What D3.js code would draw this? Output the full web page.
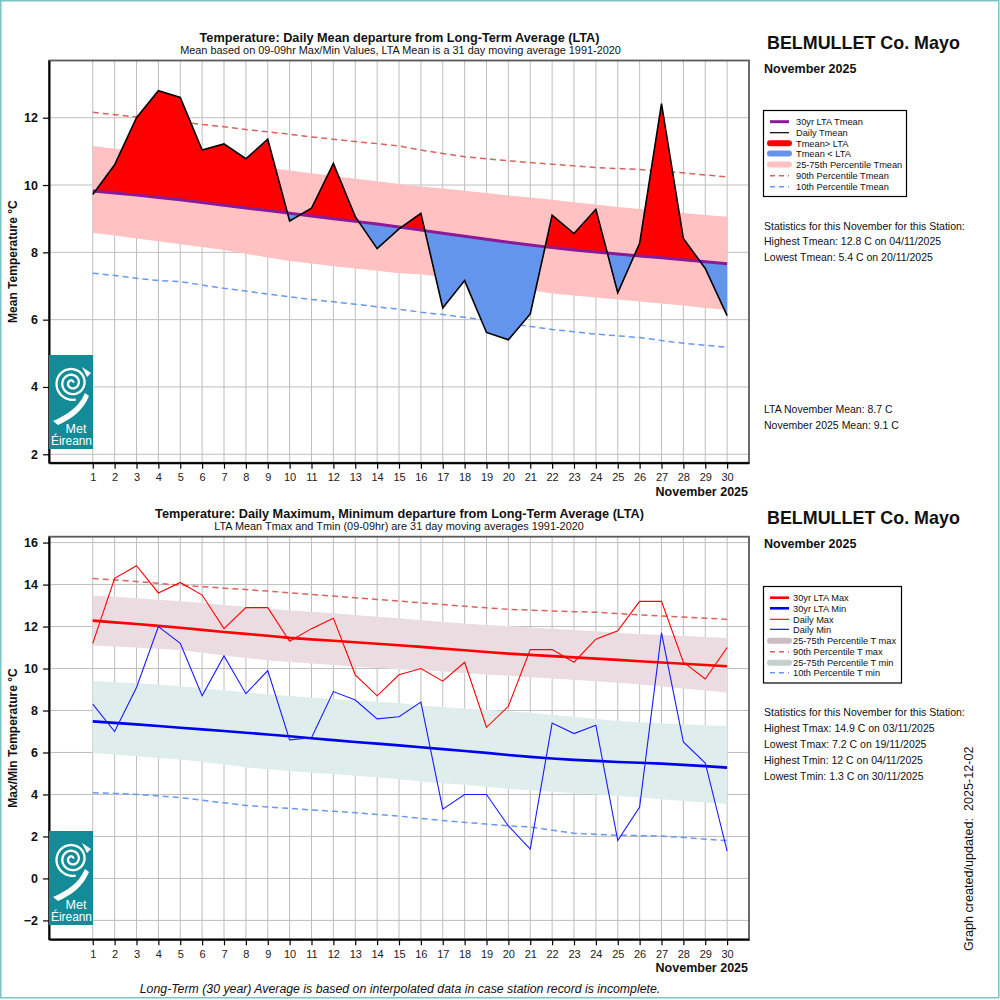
<!DOCTYPE html>
<html><head><meta charset="utf-8">
<script src="https://cdn.jsdelivr.net/npm/d3@7"></script>
<style>
body{margin:0;background:#fff}
svg{display:block;font-family:"Liberation Sans",Arial,Helvetica,sans-serif}
</style>
</head><body>
<svg id="c" width="1000" height="1000"></svg>
<script>
// ---------- DATA ----------
const days = [1,2,3,4,5,6,7,8,9,10,11,12,13,14,15,16,17,18,19,20,21,22,23,24,25,26,27,28,29,30];

// Top panel: daily mean and long-term references
const tmean   = [9.72,10.6,12.0,12.8,12.6,11.04,11.22,10.78,11.36,8.93,9.31,10.64,9.06,8.11,8.70,9.16,6.35,7.16,5.62,5.4,6.17,9.1,8.56,9.28,6.8,8.27,12.42,8.41,7.52,6.12];
const ltaMean = [9.82,9.76,9.70,9.63,9.56,9.48,9.40,9.32,9.24,9.16,9.08,9.00,8.92,8.84,8.75,8.66,8.57,8.48,8.39,8.30,8.22,8.14,8.07,8.01,7.95,7.89,7.84,7.78,7.72,7.66];
const q75Mean = [11.16,11.08,11.0,10.92,10.84,10.76,10.68,10.6,10.51,10.43,10.35,10.27,10.19,10.11,10.03,9.96,9.9,9.83,9.76,9.69,9.63,9.56,9.49,9.42,9.35,9.29,9.23,9.17,9.11,9.06];
const q25Mean = [8.58,8.5,8.41,8.33,8.24,8.16,8.07,7.96,7.85,7.74,7.67,7.59,7.52,7.45,7.38,7.35,7.26,7.18,7.08,6.98,6.88,6.78,6.72,6.66,6.6,6.54,6.48,6.42,6.35,6.29];
const p90Mean = [12.16,12.09,12.02,11.95,11.88,11.8,11.73,11.65,11.58,11.51,11.43,11.36,11.29,11.23,11.16,11.04,10.94,10.84,10.78,10.72,10.67,10.62,10.57,10.52,10.49,10.46,10.41,10.36,10.3,10.24];
const p10Mean = [7.38,7.31,7.23,7.16,7.13,7.03,6.93,6.85,6.76,6.68,6.6,6.53,6.46,6.38,6.31,6.22,6.15,6.07,5.98,5.89,5.8,5.71,5.64,5.57,5.52,5.47,5.38,5.3,5.24,5.18];

// Bottom panel: daily max/min and long-term references
const tmax   = [11.2,14.3,14.9,13.6,14.1,13.5,11.9,12.9,12.9,11.3,11.9,12.4,9.7,8.7,9.7,10.0,9.4,10.3,7.2,8.2,10.9,10.9,10.3,11.4,11.8,13.2,13.2,10.3,9.5,11.0];
const tmin   = [8.3,7.0,9.1,12.0,11.2,8.7,10.6,8.8,9.9,6.6,6.7,8.9,8.5,7.6,7.7,8.4,3.3,4.0,4.0,2.5,1.4,7.4,6.9,7.3,1.8,3.4,11.7,6.5,5.5,1.3];
const ltaMax = [12.28,12.2,12.12,12.03,11.94,11.84,11.74,11.65,11.56,11.46,11.39,11.32,11.25,11.18,11.11,11.03,10.95,10.87,10.79,10.71,10.65,10.59,10.53,10.47,10.41,10.35,10.29,10.23,10.17,10.11];
const ltaMin = [7.48,7.41,7.34,7.26,7.18,7.1,7.02,6.94,6.86,6.77,6.68,6.59,6.5,6.42,6.34,6.25,6.16,6.07,5.98,5.88,5.79,5.71,5.65,5.6,5.55,5.51,5.47,5.41,5.35,5.28];
const q75Max = [13.48,13.42,13.35,13.28,13.21,13.12,13.03,12.94,12.86,12.77,12.7,12.63,12.55,12.47,12.39,12.3,12.22,12.14,12.07,12.02,11.96,11.9,11.84,11.77,11.7,11.65,11.6,11.55,11.5,11.46];
const q25Max = [11.1,11.05,11.0,10.94,10.88,10.75,10.62,10.5,10.4,10.31,10.24,10.17,10.1,10.03,9.96,9.92,9.86,9.79,9.72,9.65,9.59,9.53,9.46,9.39,9.32,9.24,9.15,9.05,8.95,8.85];
const q75Min = [9.4,9.35,9.3,9.24,9.16,9.06,8.96,8.86,8.77,8.69,8.62,8.55,8.48,8.42,8.36,8.24,8.17,8.1,8.03,7.97,7.89,7.8,7.7,7.6,7.5,7.44,7.39,7.34,7.3,7.26];
const q25Min = [5.96,5.9,5.82,5.74,5.67,5.55,5.43,5.3,5.2,5.12,5.04,4.97,4.89,4.81,4.72,4.62,4.54,4.46,4.37,4.27,4.2,4.13,4.06,4.0,3.93,3.85,3.77,3.69,3.62,3.56];
const p90Max = [14.29,14.22,14.14,14.06,13.97,13.9,13.83,13.76,13.69,13.61,13.53,13.45,13.37,13.29,13.21,13.13,13.05,12.97,12.89,12.82,12.78,12.74,12.71,12.68,12.62,12.55,12.5,12.45,12.4,12.34];
const p10Min = [4.08,4.05,4.0,3.93,3.85,3.73,3.6,3.48,3.4,3.34,3.26,3.2,3.13,3.05,2.97,2.86,2.76,2.67,2.59,2.5,2.45,2.3,2.15,2.1,2.06,2.04,2.02,1.95,1.87,1.8];

const topTicks = [2,4,6,8,10,12];
const botTicks = [-2,0,2,4,6,8,10,12,14,16];

const station = "BELMULLET Co. Mayo";
const period = "November 2025";
const topTitle = "Temperature: Daily Mean departure from Long-Term Average (LTA)";
const topSub = "Mean based on 09-09hr Max/Min Values, LTA Mean is a 31 day moving average 1991-2020";
const botTitle = "Temperature: Daily Maximum, Minimum departure from Long-Term Average (LTA)";
const botSub = "LTA Mean Tmax and Tmin (09-09hr) are 31 day moving averages 1991-2020";
const topLegend = ["30yr LTA Tmean","Daily Tmean","Tmean> LTA","Tmean < LTA","25-75th Percentile Tmean","90th Percentile Tmean","10th Percentile Tmean"];
const botLegend = ["30yr LTA Max","30yr LTA Min","Daily Max","Daily Min","25-75th Percentile T max","90th Percentile T max","25-75th Percentile T min","10th Percentile T min"];
const topStats = ["Statistics for this November for this Station:","Highest Tmean: 12.8 C on 04/11/2025","Lowest Tmean: 5.4 C on 20/11/2025"];
const topMeans = ["LTA November Mean: 8.7 C","November 2025 Mean: 9.1 C"];
const botStats = ["Statistics for this November for this Station:","Highest Tmax: 14.9 C on 03/11/2025","Lowest Tmax: 7.2 C on 19/11/2025","Highest Tmin: 12 C on 04/11/2025","Lowest Tmin: 1.3 C on 30/11/2025"];

// ---------- DRAWING ----------
const svg = d3.select("#c");
svg.append("rect").attr("x",0.75).attr("y",0.75).attr("width",998).attr("height",997)
  .attr("fill","#fff").attr("stroke","#7cc4c6").attr("stroke-width",1.5);

const L = 49, R = 749;
const x = d3.scaleLinear().domain([-1,31]).range([L,R]);

const C = {
  purple:"#8b1a98", red:"#ff0000", blue:"#6495ed", pink:"#ffc1c1",
  p90:"#d9625f", p10:"#6a98ee", grid:"#bebebe",
  maxBand:"#ebdce1", minBand:"#dfedec", maxSw:"#cbbcc1", minSw:"#c6d0d0",
  ltaBlue:"#0000f0", dayBlue:"#1a1aff"
};

function panel(T, B, y, ticks) {
  const g = svg.append("g");
  g.append("g").selectAll("line").data(days).join("line")
    .attr("x1",d=>x(d)).attr("x2",d=>x(d)).attr("y1",T).attr("y2",B)
    .attr("stroke",C.grid).attr("stroke-width",1);
  g.append("g").selectAll("line").data(ticks).join("line")
    .attr("x1",L).attr("x2",R).attr("y1",d=>y(d)).attr("y2",d=>y(d))
    .attr("stroke",C.grid).attr("stroke-width",1);
  return g;
}

function axes(T, B, y, ticks, ytitle) {
  svg.append("rect").attr("x",L).attr("y",T).attr("width",R-L).attr("height",B-T)
    .attr("fill","none").attr("stroke","#5a5a5a").attr("stroke-width",1.8);
  const ay = svg.append("g").attr("transform",`translate(${L},0)`)
    .call(d3.axisLeft(y).tickValues(ticks).tickSize(6).tickSizeOuter(0).tickPadding(5).tickFormat(d3.format("d")));
  ay.select(".domain").attr("stroke","#000").attr("stroke-width",2);
  ay.selectAll(".tick line").attr("stroke","#000").attr("stroke-width",1.2);
  ay.selectAll("text").attr("font-size",12.5).attr("font-weight","bold").attr("fill","#111")
    .attr("font-family","Liberation Sans, Arial, sans-serif");
  const ax = svg.append("g").attr("transform",`translate(0,${B})`)
    .call(d3.axisBottom(x).tickValues(days).tickSize(6).tickSizeOuter(0).tickPadding(4.5).tickFormat(d3.format("d")));
  ax.select(".domain").attr("stroke","#000").attr("stroke-width",2);
  ax.selectAll(".tick line").attr("stroke","#000").attr("stroke-width",1.2);
  ax.selectAll("text").attr("font-size",11).attr("fill","#222")
    .attr("font-family","Liberation Sans, Arial, sans-serif");
  svg.append("text").attr("x",748).attr("y",B+33).attr("text-anchor","end")
    .attr("font-size",12.5).attr("font-weight","bold").attr("fill","#111").text(period);
  svg.append("text").attr("transform",`translate(16.5,${(T+B)/2}) rotate(-90)`)
    .attr("text-anchor","middle").attr("font-size",12).attr("font-weight","bold").attr("fill","#111").text(ytitle);
}

function lineOf(y, arr) {
  return d3.line().x((d,i)=>x(days[i])).y(d=>y(d))(arr);
}
function bandOf(y, lo, hi) {
  return d3.area().x((d,i)=>x(days[i])).y0((d,i)=>y(lo[i])).y1((d,i)=>y(hi[i]))(lo);
}

function logo(x0, y0) {
  const g = svg.append("g").attr("transform",`translate(${x0},${y0})`);
  g.append("rect").attr("width",44).attr("height",94).attr("fill","#138c97");
  const pts = [];
  for (let t = 0.3; t <= 5.6*Math.PI; t += 0.1) {
    const r = 1.0 + t*0.92;
    pts.push([23 + r*Math.cos(-t), 28 + r*Math.sin(-t)]);
  }
  g.append("path").attr("d", d3.line().curve(d3.curveBasis)(pts))
    .attr("fill","none").attr("stroke","#fff").attr("stroke-width",2.3);
  g.append("path").attr("d","M4,66 C18,60 30,52 36,38 L40,41 C34,56 22,64 9,70 Z").attr("fill","#fff");
  g.append("path").attr("d","M33,12 L42,18 L38,22 Z").attr("fill","#fff");
  g.append("text").attr("x",27).attr("y",78).attr("text-anchor","middle").attr("font-size",12.5)
    .attr("fill","#fff").text("Met");
  g.append("text").attr("x",22.5).attr("y",90).attr("text-anchor","middle").attr("font-size",12)
    .attr("fill","#fff").attr("textLength",41).attr("lengthAdjust","spacingAndGlyphs").text("Éireann");
}

function legend(x0, y0, w, h, items, ys, tx) {
  svg.append("rect").attr("x",x0).attr("y",y0).attr("width",w).attr("height",h)
    .attr("fill","#fff").attr("stroke","#000").attr("stroke-width",1.2);
  items.forEach((it,i) => {
    const yy = ys[i];
    svg.append("line").attr("x1",770).attr("x2",789).attr("y1",yy).attr("y2",yy)
      .attr("stroke",it.c).attr("stroke-width",it.w).attr("stroke-linecap",it.cap||"butt")
      .attr("stroke-dasharray",it.dash||null);
    svg.append("text").attr("x",tx).attr("y",yy+3.4).attr("font-size",9.25).attr("fill","#111").text(it.t);
  });
}

function textLines(lines, ys, size) {
  lines.forEach((t,i)=> svg.append("text").attr("x",764).attr("y",ys[i]).attr("font-size",size)
    .attr("fill","#111").text(t));
}

// ===== TOP PANEL =====
const T1 = 60.5, B1 = 462.7;
const y1 = d3.scaleLinear().domain([1.75,13.70]).range([B1,T1]);
const g1 = panel(T1,B1,y1,topTicks);
g1.append("path").attr("d",bandOf(y1,q25Mean,q75Mean)).attr("fill",C.pink);
g1.append("path").attr("d",lineOf(y1,p90Mean)).attr("fill","none").attr("stroke",C.p90)
  .attr("stroke-width",1.5).attr("stroke-dasharray","6,4");
g1.append("path").attr("d",lineOf(y1,p10Mean)).attr("fill","none").attr("stroke",C.p10)
  .attr("stroke-width",1.5).attr("stroke-dasharray","6,4");

const defs = svg.append("defs");
defs.append("clipPath").attr("id","above").append("path")
  .attr("d", d3.area().x((d,i)=>x(days[i])).y0(T1).y1(d=>y1(d))(ltaMean));
defs.append("clipPath").attr("id","below").append("path")
  .attr("d", d3.area().x((d,i)=>x(days[i])).y0(d=>y1(d)).y1(B1)(ltaMean));
const dep = d3.area().x((d,i)=>x(days[i])).y0((d,i)=>y1(ltaMean[i])).y1(d=>y1(d));
g1.append("path").attr("d",dep(tmean)).attr("fill",C.red).attr("clip-path","url(#above)");
g1.append("path").attr("d",dep(tmean)).attr("fill",C.blue).attr("clip-path","url(#below)");
g1.append("path").attr("d",lineOf(y1,ltaMean)).attr("fill","none").attr("stroke",C.purple).attr("stroke-width",3);
g1.append("path").attr("d",lineOf(y1,tmean)).attr("fill","none").attr("stroke","#000").attr("stroke-width",1.6)
  .attr("stroke-linejoin","miter");
axes(T1,B1,y1,topTicks,"Mean Temperature °C");
logo(49,355);

svg.append("text").attr("x",399.5).attr("y",42).attr("text-anchor","middle").attr("font-size",12.7)
  .attr("font-weight","bold").attr("fill","#111").text(topTitle);
svg.append("text").attr("x",400.5).attr("y",54).attr("text-anchor","middle").attr("font-size",10.9)
  .attr("fill","#111").text(topSub);
svg.append("text").attr("x",767).attr("y",48.5).attr("font-size",17.9).attr("font-weight","bold").attr("fill","#111").text(station);
svg.append("text").attr("x",764).attr("y",72.5).attr("font-size",12.5).attr("font-weight","bold").attr("fill","#111").text(period);

legend(763.5,110.5,143,86, [
  {t:topLegend[0],c:C.purple,w:3},
  {t:topLegend[1],c:"#000",w:1.2},
  {t:topLegend[2],c:C.red,w:6,cap:"round"},
  {t:topLegend[3],c:C.blue,w:6,cap:"round"},
  {t:topLegend[4],c:C.pink,w:6,cap:"round"},
  {t:topLegend[5],c:C.p90,w:1.5,dash:"5,4"},
  {t:topLegend[6],c:C.p10,w:1.5,dash:"5,4"}
], [121.7,132.7,143.3,153.5,164.5,175.7,186.7], 796);
textLines(topStats,[229.7,245.3,261],10.5);
textLines(topMeans,[413.3,429],10.5);

// ===== BOTTOM PANEL =====
const T2 = 536.7, B2 = 939.3;
const y2 = d3.scaleLinear().domain([-2.9,16.28]).range([B2,T2]);
const g2 = panel(T2,B2,y2,botTicks);
g2.append("path").attr("d",bandOf(y2,q25Max,q75Max)).attr("fill",C.maxBand);
g2.append("path").attr("d",bandOf(y2,q25Min,q75Min)).attr("fill",C.minBand);
g2.append("path").attr("d",lineOf(y2,p90Max)).attr("fill","none").attr("stroke",C.p90)
  .attr("stroke-width",1.5).attr("stroke-dasharray","6,4");
g2.append("path").attr("d",lineOf(y2,p10Min)).attr("fill","none").attr("stroke",C.p10)
  .attr("stroke-width",1.5).attr("stroke-dasharray","6,4");
g2.append("path").attr("d",lineOf(y2,ltaMax)).attr("fill","none").attr("stroke",C.red).attr("stroke-width",2.6);
g2.append("path").attr("d",lineOf(y2,ltaMin)).attr("fill","none").attr("stroke",C.ltaBlue).attr("stroke-width",2.6);
g2.append("path").attr("d",lineOf(y2,tmax)).attr("fill","none").attr("stroke",C.red).attr("stroke-width",1.1);
g2.append("path").attr("d",lineOf(y2,tmin)).attr("fill","none").attr("stroke",C.dayBlue).attr("stroke-width",1.1);
axes(T2,B2,y2,botTicks,"Max/Min Temperature °C");
logo(49,831);

svg.append("text").attr("x",399.5).attr("y",518).attr("text-anchor","middle").attr("font-size",12.7)
  .attr("font-weight","bold").attr("fill","#111").text(botTitle);
svg.append("text").attr("x",399).attr("y",530).attr("text-anchor","middle").attr("font-size",10.9)
  .attr("fill","#111").text(botSub);
svg.append("text").attr("x",767).attr("y",523.5).attr("font-size",17.9).attr("font-weight","bold").attr("fill","#111").text(station);
svg.append("text").attr("x",764).attr("y",548).attr("font-size",12.5).attr("font-weight","bold").attr("fill","#111").text(period);

legend(763.5,586.5,138,96.5, [
  {t:botLegend[0],c:C.red,w:2.6},
  {t:botLegend[1],c:C.ltaBlue,w:2.6},
  {t:botLegend[2],c:C.red,w:1.1},
  {t:botLegend[3],c:C.ltaBlue,w:1.1},
  {t:botLegend[4],c:C.maxSw,w:6,cap:"round"},
  {t:botLegend[5],c:C.p90,w:1.5,dash:"5,4"},
  {t:botLegend[6],c:C.minSw,w:6,cap:"round"},
  {t:botLegend[7],c:C.p10,w:1.5,dash:"5,4"}
], [597.7,608.3,619.3,629.3,640.7,651.7,662.7,672.7], 793);
textLines(botStats,[716.3,732.3,748.3,764,780],10.5);

svg.append("text").attr("transform","translate(973,951) rotate(-90)").attr("font-size",12.6)
  .attr("fill","#111").attr("xml:space","preserve").style("white-space","pre").text("Graph created/updated:  2025-12-02");
svg.append("text").attr("x",400).attr("y",993).attr("text-anchor","middle").attr("font-size",12.3)
  .attr("font-style","italic").attr("fill","#111").text("Long-Term (30 year) Average is based on interpolated data in case station record is incomplete.");
</script>
</body></html>
